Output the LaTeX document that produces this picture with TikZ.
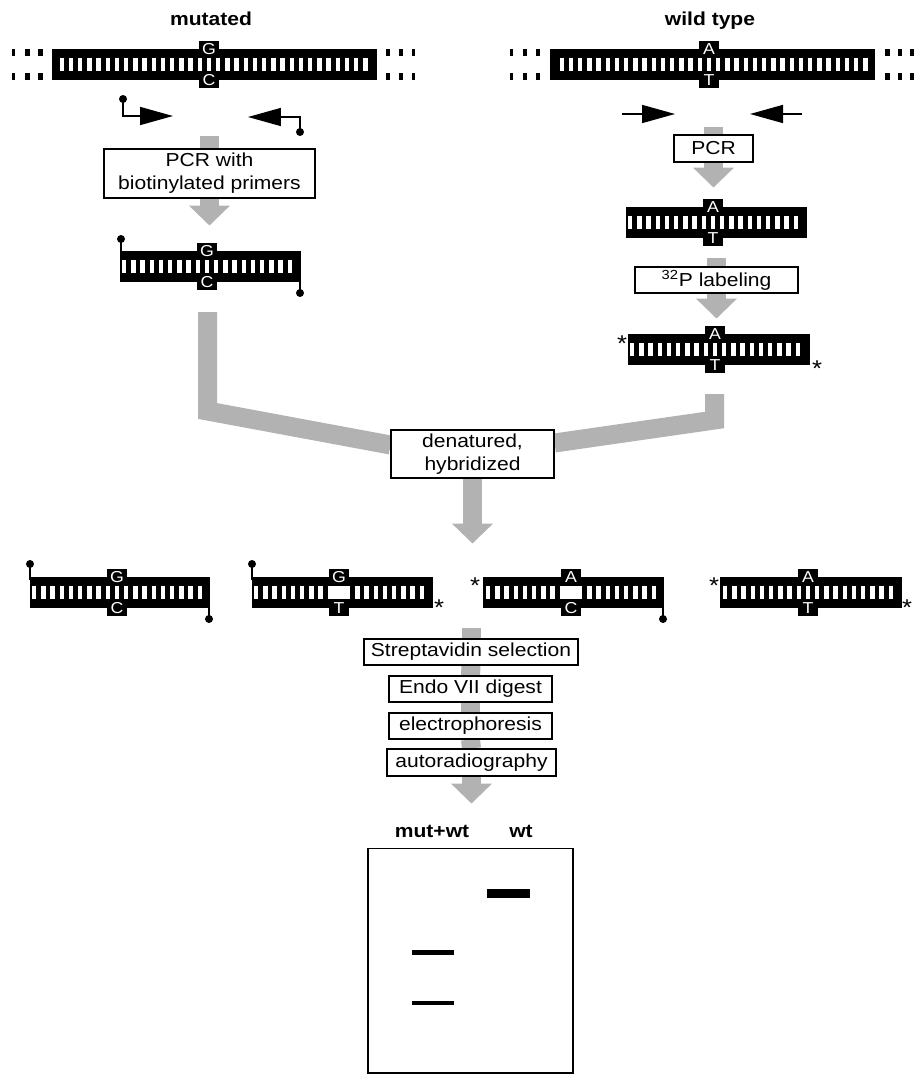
\documentclass[tikz,border=0pt]{standalone}
\usepackage{fontspec}
\setmainfont{Liberation Sans}[FakeStretch=1.12]
\usetikzlibrary{arrows.meta,backgrounds}
\definecolor{FlowGray}{RGB}{178,178,178}

\tikzset{
  stepbox/.style={draw, fill=white, line width=0.6pt, inner sep=0pt, align=center,
    font=\fontsize{10.7}{13}\selectfont},
  flow/.style={FlowGray, line width=0.38cm, line join=miter},
  flowtip/.style={flow, -{Triangle[length=0.4cm,width=0.8cm]}},
  base/.style={white, inner sep=0pt, font=\fontsize{9}{9}\selectfont},
  title/.style={anchor=base, inner sep=0pt, font=\bfseries\fontsize{10.7}{13}\selectfont},
  label32/.style={anchor=north, inner sep=0pt, font=\fontsize{13}{13}\selectfont},
  primer/.style={line width=0.9pt, -{Triangle[length=0.66cm,width=0.36cm]}},
  stem/.style={line width=0.9pt},
}

% duplex: name, x0, x1, top, centre x, upper base, lower base, mismatch (0/1)
\newcommand{\dna}[8]{%
  \fill (#2,#4) rectangle (#3,#4+31);
  \fill (#5-10,#4-8) rectangle (#5+10,#4+39);
  \foreach \k in {-40,...,40}{
    \pgfmathsetmacro\xs{#5+\k*9.2-2.2}
    \pgfmathtruncatemacro\ok{and(\xs>#2+1.5,\xs+4.4<#3-1.5)}
    \ifnum\ok=1 \fill[white] (\xs,#4+9) rectangle ++(4.4,13);\fi
  }
  \ifnum#8=1 \fill[white] (#5-9,#4+9) rectangle (#5+9,#4+22);\fi
  \node[base] (#1u) at (#5,#4+0.5) {#6};
  \node[base] (#1l) at (#5,#4+31.5) {#7};
}
\newcommand{\biotin}[3]{% x, dot y, end of stem
  \draw[stem] (#1,#2) -- (#1,#3);
  \fill (#1,#2) circle (0.08cm);
}

\begin{document}
\begin{tikzpicture}[x=0.02cm, y=-0.02cm]
  \useasboundingbox (0,0) rectangle (913,1075);

  \node[title] (mut) at (211,26) {mutated};
  \node[title] (wt) at (710,26) {wild type};

  % genomic DNA
  \dna{gm}{52}{377}{49}{209}{G}{C}{0}
  \dna{gw}{550}{875}{49}{709}{A}{T}{0}
  \foreach \x/\w in {12/3,25/5,38/5,386/4,399/4,412/3,510/3,523/4,536/4,885/5,898/4,910/4}{
    \fill (\x,49) rectangle ++(\w,7);
    \fill (\x,73) rectangle ++(\w,7);
  }

  % primers
  \draw[primer] (123,99) |- (173,116);
  \fill (123,99) circle (0.08cm);
  \draw[primer] (300,132) |- (248,117);
  \fill (300,132) circle (0.08cm);
  \draw[primer] (622,114) -- (675,114);
  \draw[primer] (802,114) -- (750,114);

  % mutated branch
  \node[stepbox, minimum width=4.22cm, minimum height=0.98cm] (pcrmut) at (209.5,173.5)
    {PCR with\\biotinylated primers};
  \dna{pm}{120}{301}{251}{207}{G}{C}{0}
  \biotin{121}{239}{253}
  \biotin{300}{293}{279}

  % wild type branch
  \node[stepbox, minimum width=1.58cm, minimum height=0.54cm] (pcrwt) at (713.5,148.5) {PCR};
  \dna{pw}{626}{807}{207}{713}{A}{T}{0}
  \node[stepbox, minimum width=3.26cm, minimum height=0.52cm] (label) at (716.5,280)
    {\textsuperscript{32}P labeling};
  \dna{lw}{628}{810}{334}{715}{A}{T}{0}
  \node[label32] (s1) at (622,335) {*};
  \node[label32] (s2) at (817,360) {*};

  \node[stepbox, minimum width=3.26cm, minimum height=0.96cm] (hyb) at (472.5,454)
    {denatured,\\hybridized};

  % hybrid duplexes
  \dna{h1}{30}{210}{577}{117}{G}{C}{0}
  \biotin{30}{564}{580}
  \biotin{209}{619}{605}
  \dna{h2}{252}{433}{577}{339}{G}{T}{1}
  \biotin{252}{564}{580}
  \node[label32] (s3) at (439,599) {*};
  \dna{h3}{483}{664}{577}{571}{A}{C}{1}
  \biotin{663}{619}{605}
  \node[label32] (s4) at (475,577) {*};
  \dna{h4}{720}{902}{577}{808}{A}{T}{0}
  \node[label32] (s5) at (714,577) {*};
  \node[label32] (s6) at (907,599) {*};

  % analysis
  \node[stepbox, minimum width=4.28cm, minimum height=0.52cm] (strep) at (471,652) {Streptavidin selection};
  \node[stepbox, minimum width=3.26cm, minimum height=0.52cm] (endo) at (470.5,689) {Endo VII digest};
  \node[stepbox, minimum width=3.26cm, minimum height=0.52cm] (elec) at (470.5,726) {electrophoresis};
  \node[stepbox, minimum width=3.38cm, minimum height=0.54cm] (auto) at (471.5,762.5) {autoradiography};

  % gel
  \node[title] (lanemix) at (432,837) {mut+wt};
  \node[title] (lanewt) at (521,837) {wt};
  \node[draw, line width=0.6pt, minimum width=4.1cm, minimum height=4.5cm, inner sep=0pt] (gel) at (470.5,960.5) {};
  \fill (487,889) rectangle (530,898);
  \fill (412,950) rectangle (454,954.5);
  \fill (412,1000.5) rectangle (454,1005);

  \coordinate (mutprim) at (209.5,136);
  \coordinate (wtprim) at (713.5,127);
  \coordinate (wtpcr) at (716.5,258);
  \coordinate (mutjoin) at (207.5,312);
  \coordinate (wtjoin) at (714.5,394);
  \coordinate (hybrow) at (471,628);

  \begin{scope}[on background layer]
    \draw[flow] (mutprim) -- (pcrmut.north);
    \draw[flowtip] (pcrmut.south) -- ++(0,27);
    \draw[flow] (wtprim) -- (pcrwt.north);
    \draw[flowtip] (pcrwt.south) -- ++(0,25);
    \draw[flow] (wtpcr) -- (label.north);
    \draw[flowtip] (label.south) -- ++(0,25);
    \draw[flow] (mutjoin) -- (207.5,411) -- ([yshift=0.18cm]hyb.west);
    \draw[flow] (wtjoin) -- (714.5,420) -- ([yshift=0.22cm]hyb.east);
    \draw[flowtip] (hyb.south) -- ++(0,65);
    \draw[flow] (hybrow) -- (strep.north);
    \draw[flow] (strep.south) -- (endo.north);
    \draw[flow] (endo.south) -- (elec.north);
    \draw[flow] (elec.south) -- (auto.north);
    \draw[flowtip] (auto.south) -- ++(0,27);
  \end{scope}
\end{tikzpicture}
\end{document}
